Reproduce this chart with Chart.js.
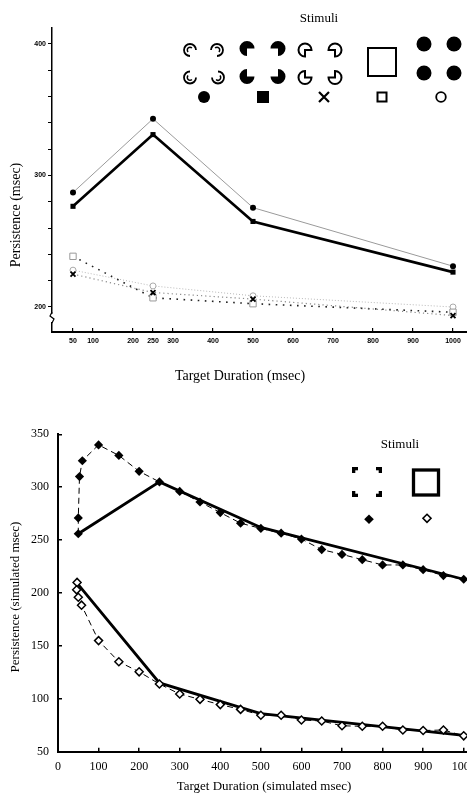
<!DOCTYPE html>
<html><head><meta charset="utf-8">
<script src="https://cdn.jsdelivr.net/npm/chart.js@4.4.1/dist/chart.umd.min.js"></script>
<style>
html,body{margin:0;padding:0;width:467px;height:795px;overflow:hidden;background:#fff;}
#w1{position:absolute;left:0;top:0;width:480px;height:400px;}
#w2{position:absolute;left:0;top:400px;width:510px;height:395px;}
canvas{display:block;}
</style></head><body>
<div id="w1"><canvas id="c1" width="480" height="400"></canvas></div>
<div id="w2"><canvas id="c2" width="510" height="395"></canvas></div>
<script>
// ---------- data: top panel (human data) ----------
const topDurations = [50, 250, 500, 1000];
const topFilledCircle = [287, 343, 275.5, 231];
const topFilledSquare = [276.5, 331, 265, 226.5];
const topOpenSquare = [238.5, 207, 202.5, 196];
const topCross = [225, 211, 206, 193.5];
const topOpenCircle = [228, 216, 208.5, 200];
const topXTicks = [50, 100, 200, 250, 300, 400, 500, 600, 700, 800, 900, 1000];
const topYTicks = [200, 220, 240, 260, 280, 300, 320, 340, 360, 380, 400];
const topYLabels = [200, 300, 400];

// ---------- data: bottom panel (simulation) ----------
const simBlackDurations = [50, 50, 53, 60, 100, 150, 200, 250, 300, 350, 400, 450, 500, 550, 600, 650, 700, 750, 800, 850, 900, 950, 1000];
const simBlack = [256, 271, 310, 325, 340, 330, 315, 305, 296, 286, 276, 266, 261, 256.5, 251, 241, 236.5, 231.5, 226.5, 226.5, 222, 216.5, 213];
const simWhiteDurations = [47, 46, 50, 58, 100, 150, 200, 250, 300, 350, 400, 450, 500, 550, 600, 650, 700, 750, 800, 850, 900, 950, 1000];
const simWhite = [210, 203, 196, 188.5, 155, 135, 125.5, 114, 104.5, 99.5, 94.5, 90, 84.5, 84.5, 80, 79, 74.5, 74, 74, 70.5, 70, 70.5, 65];
const simSolidDurations = [50, 250, 500, 1000];
const simSolidBlack = [256, 305, 262, 213];
const simSolidWhite = [208, 115, 86, 65.5];
const simXTicks = [0, 100, 200, 300, 400, 500, 600, 700, 800, 900, 1000];
const simYTicks = [50, 100, 150, 200, 250, 300, 350];

const pts = (xs, ys) => xs.map((x, i) => ({x: x, y: ys[i]}));
const SERIF = "'Liberation Serif', 'Times New Roman', serif";
const SANS = "'Liberation Sans', Arial, sans-serif";

Chart.defaults.animation = false;
Chart.defaults.color = '#000';

// ---------- drawing helpers for stimulus icons ----------
const KA = [Math.PI/4, 3*Math.PI/4, -Math.PI/4, -3*Math.PI/4]; // TL, TR, BL, BR missing-quadrant direction
function pacman(ctx, cx, cy, r, a, mode) {
  ctx.beginPath();
  if (mode === 'arc') {
    ctx.arc(cx, cy, r, a + Math.PI/4, a - Math.PI/4 + 2*Math.PI);
    ctx.lineWidth = 1.8; ctx.stroke();
    ctx.beginPath();
    ctx.arc(cx, cy, r*0.45, a + Math.PI/2, a + 3*Math.PI/2);
    ctx.lineWidth = 1.5; ctx.stroke();
    return;
  }
  ctx.moveTo(cx, cy);
  ctx.arc(cx, cy, r, a + Math.PI/4, a - Math.PI/4 + 2*Math.PI);
  ctx.closePath();
  if (mode === 'fill') { ctx.fill(); } else { ctx.lineWidth = 2; ctx.stroke(); }
}

const topDecor = {
  id: 'topDecor',
  afterDraw(chart) {
    const ctx = chart.ctx;
    ctx.save();
    ctx.fillStyle = '#000'; ctx.strokeStyle = '#000';
    // axis break on y axis
    ctx.fillStyle = '#fff'; ctx.fillRect(49, 314, 7, 8);
    ctx.fillStyle = '#000';
    ctx.lineWidth = 1.2;
    ctx.beginPath(); ctx.moveTo(52, 312); ctx.lineTo(50, 316); ctx.lineTo(54, 319); ctx.lineTo(52, 323); ctx.stroke();
    // titles
    ctx.textAlign = 'center'; ctx.textBaseline = 'middle';
    ctx.font = '13px ' + SERIF;
    ctx.fillText('Stimuli', 319, 19);
    ctx.font = '14px ' + SERIF;
    ctx.fillText('Target Duration (msec)', 240, 376);
    ctx.save(); ctx.translate(16, 215); ctx.rotate(-Math.PI/2);
    ctx.fillText('Persistence (msec)', 0, 0); ctx.restore();
    // stimulus icons
    const g1 = [[190,50],[217,50],[190,77.5],[218,77.5]];
    const g2 = [[247,48.5],[278,48.5],[247,76.5],[278,76.5]];
    const g3 = [[305,50],[335,50],[305,77.5],[335,77.5]];
    g1.forEach((p, i) => pacman(ctx, p[0], p[1], 6, KA[i], 'arc'));
    g2.forEach((p, i) => pacman(ctx, p[0], p[1], 7.5, KA[i], 'fill'));
    g3.forEach((p, i) => pacman(ctx, p[0], p[1], 6.5, KA[i], 'outline'));
    ctx.lineWidth = 2; ctx.strokeRect(368, 48, 28, 28);
    [[424,44],[454,44],[424,73],[454,73]].forEach(p => { ctx.beginPath(); ctx.arc(p[0], p[1], 7.5, 0, 2*Math.PI); ctx.fill(); });
    // symbol row
    ctx.beginPath(); ctx.arc(204, 97, 6, 0, 2*Math.PI); ctx.fill();
    ctx.fillRect(257, 91, 12, 12);
    ctx.lineWidth = 2.2; ctx.beginPath(); ctx.moveTo(319, 92); ctx.lineTo(329, 102); ctx.moveTo(329, 92); ctx.lineTo(319, 102); ctx.stroke();
    ctx.lineWidth = 2; ctx.strokeRect(377.5, 92.5, 9, 9);
    ctx.lineWidth = 1.8; ctx.beginPath(); ctx.arc(441, 97, 4.8, 0, 2*Math.PI); ctx.stroke();
    ctx.restore();
  }
};

const botDecor = {
  id: 'botDecor',
  afterDraw(chart) {
    const ctx = chart.ctx;
    ctx.save();
    ctx.fillStyle = '#000'; ctx.strokeStyle = '#000';
    ctx.textAlign = 'center'; ctx.textBaseline = 'middle';
    ctx.font = '13px ' + SERIF;
    ctx.fillText('Stimuli', 400, 45);
    ctx.fillText('Target Duration (simulated msec)', 264, 387);
    ctx.save(); ctx.translate(16, 197); ctx.rotate(-Math.PI/2);
    ctx.fillText('Persistence (simulated msec)', 0, 0); ctx.restore();
    // illusory (corner) square
    const L = 6, T = 3.3, x0 = 352, y0 = 67, x1 = 382, y1 = 97;
    ctx.fillRect(x0, y0, L, T); ctx.fillRect(x0, y0, T, L);
    ctx.fillRect(x1 - L, y0, L, T); ctx.fillRect(x1 - T, y0, T, L);
    ctx.fillRect(x0, y1 - T, L, T); ctx.fillRect(x0, y1 - L, T, L);
    ctx.fillRect(x1 - L, y1 - T, L, T); ctx.fillRect(x1 - T, y1 - L, T, L);
    // real square
    ctx.lineWidth = 3.3; ctx.strokeRect(413.5, 70, 25, 25);
    // diamonds
    ctx.beginPath(); ctx.moveTo(369, 114.5); ctx.lineTo(373.8, 119.3); ctx.lineTo(369, 124.1); ctx.lineTo(364.2, 119.3); ctx.closePath(); ctx.fill();
    ctx.lineWidth = 1.6; ctx.fillStyle = '#fff';
    ctx.beginPath(); ctx.moveTo(427, 114.3); ctx.lineTo(431, 118.3); ctx.lineTo(427, 122.3); ctx.lineTo(423, 118.3); ctx.closePath(); ctx.fill(); ctx.stroke();
    ctx.restore();
  }
};

// ---------- top chart ----------
new Chart(document.getElementById('c1'), {
  type: 'line',
  data: {
    datasets: [
      { label: 'filled square', data: pts(topDurations, topFilledSquare), borderColor: '#000', borderWidth: 2.6,
        pointStyle: 'rect', pointRadius: 3.6, pointBackgroundColor: '#000', pointBorderColor: '#000', pointBorderWidth: 0 },
      { label: 'filled circle', data: pts(topDurations, topFilledCircle), borderColor: '#9a9a9a', borderWidth: 1,
        pointStyle: 'circle', pointRadius: 3, pointBackgroundColor: '#000', pointBorderColor: '#000', pointBorderWidth: 0 },
      { label: 'cross', data: pts(topDurations, topCross), borderColor: '#8a8a8a', borderWidth: 1.2, borderDash: [1.2, 3],
        pointStyle: 'crossRot', pointRadius: 3.5, pointBorderColor: '#000', pointBorderWidth: 1.8 },
      { label: 'open square', data: pts(topDurations, topOpenSquare), borderColor: '#222', borderWidth: 1.6, borderDash: [1.6, 5.5],
        pointStyle: 'rect', pointRadius: 4.5, pointBackgroundColor: '#fff', pointBorderColor: '#999', pointBorderWidth: 1 },
      { label: 'open circle', data: pts(topDurations, topOpenCircle), borderColor: '#b8b8b8', borderWidth: 1, borderDash: [1, 2],
        pointStyle: 'circle', pointRadius: 3, pointBackgroundColor: '#fff', pointBorderColor: '#aaa', pointBorderWidth: 1 }
    ]
  },
  options: {
    responsive: false, devicePixelRatio: 1,
    layout: { padding: { top: 28, right: 13, left: 0, bottom: 0 } },
    elements: { line: { tension: 0 } },
    plugins: { legend: { display: false }, tooltip: { enabled: false } },
    scales: {
      x: {
        type: 'linear', min: -2.5, max: 1035,
        afterBuildTicks: s => { s.ticks = topXTicks.map(v => ({ value: v })); },
        afterFit: s => { s.height = 68; },
        grid: { drawOnChartArea: false, drawTicks: true, tickLength: -4, color: '#000', lineWidth: 1.2 },
        border: { display: true, color: '#000', width: 2 },
        ticks: { font: { family: SANS, size: 7, weight: 'bold' }, color: '#000', padding: 9, maxRotation: 0, autoSkip: false,
          callback: v => String(v) }
      },
      y: {
        type: 'linear', min: 181, max: 412,
        afterBuildTicks: s => { s.ticks = topYTicks.map(v => ({ value: v })); },
        afterFit: s => { s.width = 52; },
        grid: { drawOnChartArea: false, drawTicks: true, tickLength: 4, color: '#000', lineWidth: 1 },
        border: { display: true, color: '#000', width: 1.5 },
        ticks: { font: { family: SANS, size: 7, weight: 'bold' }, color: '#000', padding: 2, autoSkip: false,
          callback: v => topYLabels.includes(v) ? String(v) : '' }
      }
    }
  },
  plugins: [topDecor]
});

// ---------- bottom chart ----------
new Chart(document.getElementById('c2'), {
  type: 'line',
  data: {
    datasets: [
      { label: 'illusory square (simulated)', data: pts(simBlackDurations, simBlack), borderColor: '#000', borderWidth: 1, borderDash: [6, 4],
        pointStyle: 'rectRot', pointRadius: 4.6, pointBackgroundColor: '#000', pointBorderColor: '#000', pointBorderWidth: 0 },
      { label: 'real square (simulated)', data: pts(simWhiteDurations, simWhite), borderColor: '#000', borderWidth: 1, borderDash: [6, 4],
        pointStyle: 'rectRot', pointRadius: 4, pointBackgroundColor: '#fff', pointBorderColor: '#000', pointBorderWidth: 1.5 },
      { label: 'illusory square (data)', data: pts(simSolidDurations, simSolidBlack), borderColor: '#000', borderWidth: 2.8, pointRadius: 0 },
      { label: 'real square (data)', data: pts(simSolidDurations, simSolidWhite), borderColor: '#000', borderWidth: 2.8, pointRadius: 0 }
    ]
  },
  options: {
    responsive: false, devicePixelRatio: 1,
    layout: { padding: { top: 34.3, right: 26, left: 0, bottom: 0 } },
    elements: { line: { tension: 0 } },
    plugins: { legend: { display: false }, tooltip: { enabled: false } },
    scales: {
      x: {
        type: 'linear', min: 0, max: 1050,
        afterBuildTicks: s => { s.ticks = simXTicks.map(v => ({ value: v })); },
        afterFit: s => { s.height = 43.3; },
        grid: { drawOnChartArea: false, drawTicks: true, tickLength: -4, color: '#000', lineWidth: 1.5 },
        border: { display: true, color: '#000', width: 2 },
        ticks: { font: { family: SERIF, size: 12 }, color: '#000', padding: 11.5, maxRotation: 0, autoSkip: false,
          callback: v => String(v) }
      },
      y: {
        type: 'linear', min: 50, max: 350,
        afterBuildTicks: s => { s.ticks = simYTicks.map(v => ({ value: v })); },
        afterFit: s => { s.width = 58; },
        grid: { drawOnChartArea: false, drawTicks: true, tickLength: -4, color: '#000', lineWidth: 1.5 },
        border: { display: true, color: '#000', width: 2 },
        ticks: { font: { family: SERIF, size: 12 }, color: '#000', padding: 13, autoSkip: false,
          callback: v => String(v) }
      }
    }
  },
  plugins: [botDecor]
});
</script>
</body></html>
